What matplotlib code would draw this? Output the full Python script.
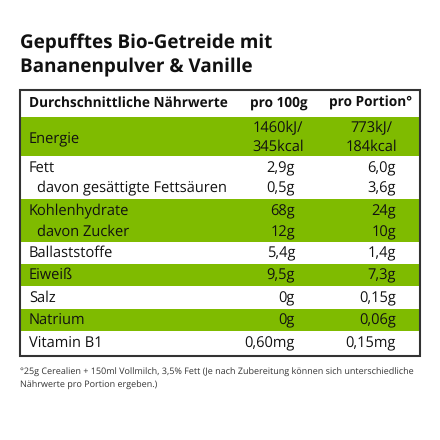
import matplotlib
matplotlib.use('Agg')
import matplotlib.pyplot as plt
from matplotlib.patches import Rectangle

plt.rcParams['font.family'] = ['Open Sans', 'DejaVu Sans']
plt.rcParams['text.hinting'] = 'no_hinting'

title_lines = ['Gepufftes Bio-Getreide mit', 'Bananenpulver & Vanille']
col_headers = ['Durchschnittliche Nährwerte', 'pro 100g', 'pro Portion°']

nutrients = ['Energie', 'Fett', 'davon gesättigte Fettsäuren', 'Kohlenhydrate', 'davon Zucker',
             'Ballaststoffe', 'Eiweiß', 'Salz', 'Natrium', 'Vitamin B1']
per_100g = ['1460kJ/\n345kcal', '2,9g', '0,5g', '68g', '12g', '5,4g', '9,5g', '0g', '0g', '0,60mg']
per_portion = ['773kJ/\n184kcal', '6,0g', '3,6g', '24g', '10g', '1,4g', '7,3g', '0,15g', '0,06g', '0,15mg']
footnote = ['°25g Cerealien + 150ml Vollmilch, 3,5% Fett (Je nach Zubereitung können sich unterschiedliche',
            'Nährwerte pro Portion ergeben.)']

GREEN = '#7fbb00'
DARK = '#111111'

# pixel layout of the table, baselines of the rows
row_y = [142, 172, 192, 215, 236, 257, 279, 302, 324, 347]
bands = [(117, 156), (199, 242), (264, 286), (309, 331)]

fig = plt.figure(figsize=(4.4, 4.4), dpi=100)
ax = fig.add_axes([0, 0, 1, 1])
ax.set_xlim(0, 440)
ax.set_ylim(440, 0)
ax.axis('off')

ax.text(20, 48, title_lines[0], fontsize=13.6, fontweight='bold', color=DARK, va='baseline')
ax.text(20, 72, title_lines[1], fontsize=13.6, fontweight='bold', color=DARK, va='baseline')

for top, bottom in bands:
    ax.add_patch(Rectangle((20, top), 400, bottom - top, color=GREEN, lw=0))
ax.add_patch(Rectangle((20, 90), 400, 266, fill=False, ec='#333333', lw=1.5))

ax.text(29, 107, col_headers[0], fontsize=9.85, fontweight='bold', color=DARK, va='baseline')
ax.text(308, 107, col_headers[1], fontsize=9.85, fontweight='bold', color=DARK, va='baseline', ha='right')
ax.text(412, 107, col_headers[2], fontsize=9.85, fontweight='bold', color=DARK, va='baseline', ha='right')

for name, a, b, y in zip(nutrients, per_100g, per_portion, row_y):
    x = 37 if name.startswith('davon') else 29
    ax.text(x, y, name, fontsize=10.5, color=DARK, va='baseline')
    if '\n' in a:
        # Energie has two centred lines per cell
        for i, (pa, pb) in enumerate(zip(a.split('\n'), b.split('\n'))):
            ax.text(278, 132 + i * 19, pa, fontsize=10.5, color=DARK, va='baseline', ha='center')
            ax.text(371, 132 + i * 19, pb, fontsize=10.5, color=DARK, va='baseline', ha='center')
    else:
        ax.text(295, y, a, fontsize=10.5, color=DARK, va='baseline', ha='right')
        ax.text(396, y, b, fontsize=10.5, color=DARK, va='baseline', ha='right')

ax.text(20, 375, footnote[0], fontsize=6.52, color='#333333', va='baseline')
ax.text(20, 388, footnote[1], fontsize=6.52, color='#333333', va='baseline')

fig.savefig('out.png', dpi=100)
